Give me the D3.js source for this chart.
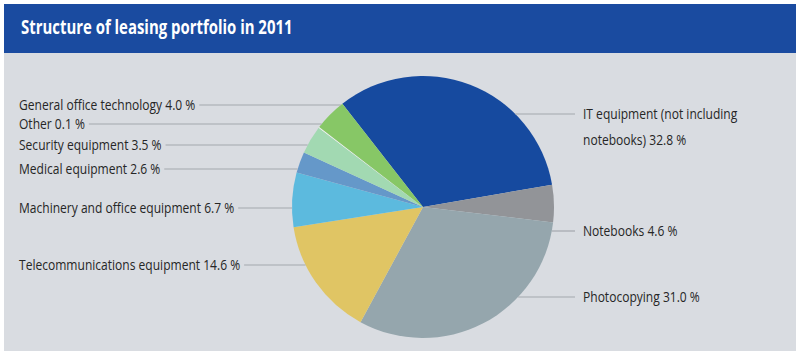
<!DOCTYPE html>
<html><head><meta charset="utf-8">
<script src="https://cdn.jsdelivr.net/npm/d3@7"></script>
<style>
html,body{margin:0;padding:0;background:#fff;}
svg{display:block;}
</style></head>
<body>
<svg id="chart" width="800" height="356"></svg>
<script>
// ---- data ----
const categories = [
  "IT equipment (not including notebooks)",
  "Notebooks",
  "Photocopying",
  "Telecommunications equipment",
  "Machinery and office equipment",
  "Medical equipment",
  "Security equipment",
  "Other",
  "General office technology"
];
const values = [32.8, 4.6, 31.0, 14.6, 6.7, 2.6, 3.5, 0.1, 4.0];
const valueLabels = ["32.8 %", "4.6 %", "31.0 %", "14.6 %", "6.7 %", "2.6 %", "3.5 %", "0.1 %", "4.0 %"];
const colors = ["#164a9f", "#929498", "#95a6ad", "#e0c564", "#5cbade", "#6598c9", "#a2d9b2", "#f4f6f2", "#87c766"];
const title = "Structure of leasing portfolio in 2011";

// ---- layout (label positions) ----
const cx = 423, cy = 207, R = 131;
const labelLayout = [
  {side: "right", y: 114, lines: ["IT equipment (not including", "notebooks) 32.8 %"]},
  {side: "right", y: 231},
  {side: "right", y: 297},
  {side: "left", y: 265},
  {side: "left", y: 208},
  {side: "left", y: 169},
  {side: "left", y: 145},
  {side: "left", y: 124},
  {side: "left", y: 105}
];

const svg = d3.select("#chart");
const font = "'Open Sans','Noto Sans',sans-serif";
const squeeze = (sel, f) => {
  const w = sel.node().getComputedTextLength();
  sel.attr("textLength", w * f).attr("lengthAdjust", "spacingAndGlyphs");
  return w * f;
};

// panel
svg.append("rect").attr("x", 4).attr("y", 4).attr("width", 792).attr("height", 347).attr("fill", "#d9dce1");
svg.append("rect").attr("x", 4).attr("y", 4).attr("width", 792).attr("height", 49).attr("fill", "#1a4ba0");
const tt = svg.append("text").attr("x", 21).attr("y", 34).attr("fill", "#fff")
  .attr("font-family", font).attr("font-weight", "bold").attr("font-size", 19)
  .text(title);
squeeze(tt, 0.785);

// pie
const startA = -38 * Math.PI / 180;
const pie = d3.pie().sort(null).startAngle(startA).endAngle(startA + 2 * Math.PI)(values);
const arc = d3.arc().innerRadius(0).outerRadius(R);
const g = svg.append("g").attr("transform", `translate(${cx},${cy})`);
g.selectAll("path").data(pie).join("path")
  .attr("d", arc)
  .attr("fill", (d, i) => colors[i]);

// labels and leader lines
const labelG = svg.append("g").attr("font-family", font).attr("font-size", 14).attr("fill", "#262626");
const rightTextX = 583, rightLineEnd = 575, leftTextX = 19, f = 0.86;
labelLayout.forEach((L, i) => {
  const dy = L.y - cy;
  const half = Math.sqrt(Math.max(0, R * R - dy * dy));
  if (L.side === "right") {
    const x0 = cx + half;
    svg.append("line").attr("x1", x0).attr("x2", rightLineEnd).attr("y1", L.y).attr("y2", L.y)
      .attr("stroke", "#a3a7ad").attr("stroke-width", 1.2);
    const lines = L.lines || [categories[i] + " " + valueLabels[i]];
    lines.forEach((t, k) => {
      const s = labelG.append("text").attr("x", rightTextX).attr("y", L.y + 5 + k * 26).text(t);
      squeeze(s, f);
    });
  } else {
    const t = labelG.append("text").attr("x", leftTextX).attr("y", L.y + 5)
      .text(categories[i] + " " + valueLabels[i]);
    const tw = squeeze(t, f);
    const x1 = cx - half;
    svg.append("line").attr("x1", leftTextX + tw + 4).attr("x2", x1).attr("y1", L.y).attr("y2", L.y)
      .attr("stroke", "#a3a7ad").attr("stroke-width", 1.2);
  }
});
</script>
</body></html>
